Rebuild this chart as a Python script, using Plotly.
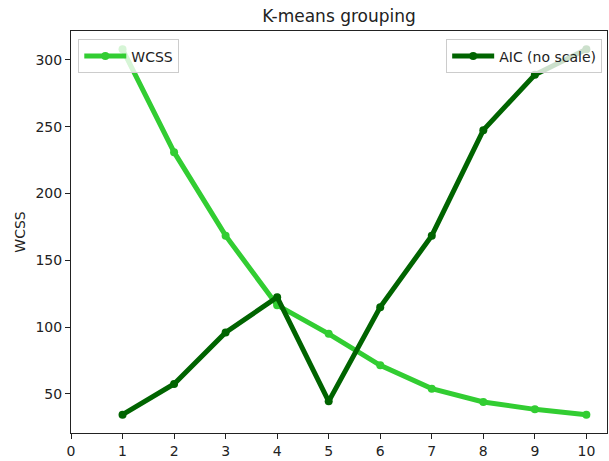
import plotly.graph_objects as go

clusters = [1, 2, 3, 4, 5, 6, 7, 8, 9, 10]
wcss = [308, 231, 168.5, 116.5, 95, 71.5, 54, 44, 38.5, 34.5]
aic_no_scale = [34.5, 57.5, 96, 122.5, 44.5, 115, 168.5, 247.5, 289, 308]
x_ticks = [0, 1, 2, 3, 4, 5, 6, 7, 8, 9, 10]
y_ticks = [50, 100, 150, 200, 250, 300]

FONT = "DejaVu Sans"
yr = [20.8, 321.7]

fig = go.Figure()
fig.add_trace(go.Scatter(
    x=clusters, y=wcss, mode="lines+markers", name="WCSS", showlegend=True,
    line=dict(color="#32CD32", width=5), marker=dict(color="#32CD32", size=8),
    legend="legend", yaxis="y"))
fig.add_trace(go.Scatter(
    x=clusters, y=aic_no_scale, mode="lines+markers", name="AIC (no scale)", showlegend=True,
    line=dict(color="#006400", width=5), marker=dict(color="#006400", size=8),
    legend="legend2", yaxis="y2"))

axis_common = dict(showline=True, linecolor="#222", linewidth=1, mirror=True,
                   ticks="outside", ticklen=5, tickcolor="#222", tickwidth=1,
                   showgrid=False, zeroline=False, automargin=False,
                   tickfont=dict(family=FONT, size=14, color="#222"))

legend_style = dict(bgcolor="rgba(255,255,255,0.8)", bordercolor="#cccccc", borderwidth=1,
                    font=dict(family=FONT, size=14, color="#222"), itemwidth=42,
                    yanchor="top", y=0.979, visible=True)

fig.update_layout(
    width=609, height=461,
    showlegend=True,
    margin=dict(l=71, r=2, t=31, b=28),
    paper_bgcolor="white", plot_bgcolor="white",
    font=dict(family=FONT, size=14, color="#222"),
    title=dict(text="K-means grouping", x=0.5, xref="paper", xanchor="center",
               y=1, yref="paper", yanchor="bottom", pad=dict(b=9),
               font=dict(family=FONT, size=17, color="#222")),
    xaxis=dict(range=[0, 10.4], tickvals=x_ticks, **axis_common),
    yaxis=dict(range=yr, tickvals=y_ticks,
               title=dict(text="WCSS", standoff=6, font=dict(family=FONT, size=14, color="#222")),
               **axis_common),
    yaxis2=dict(range=yr, overlaying="y", visible=False),
    legend=dict(x=0.0136, xanchor="left", **legend_style),
    legend2=dict(x=0.991, xanchor="right", **legend_style),
)

fig.write_html("out.html", config={"displayModeBar": False},
               post_script="document.body.style.margin='0';document.body.style.overflow='hidden';")
